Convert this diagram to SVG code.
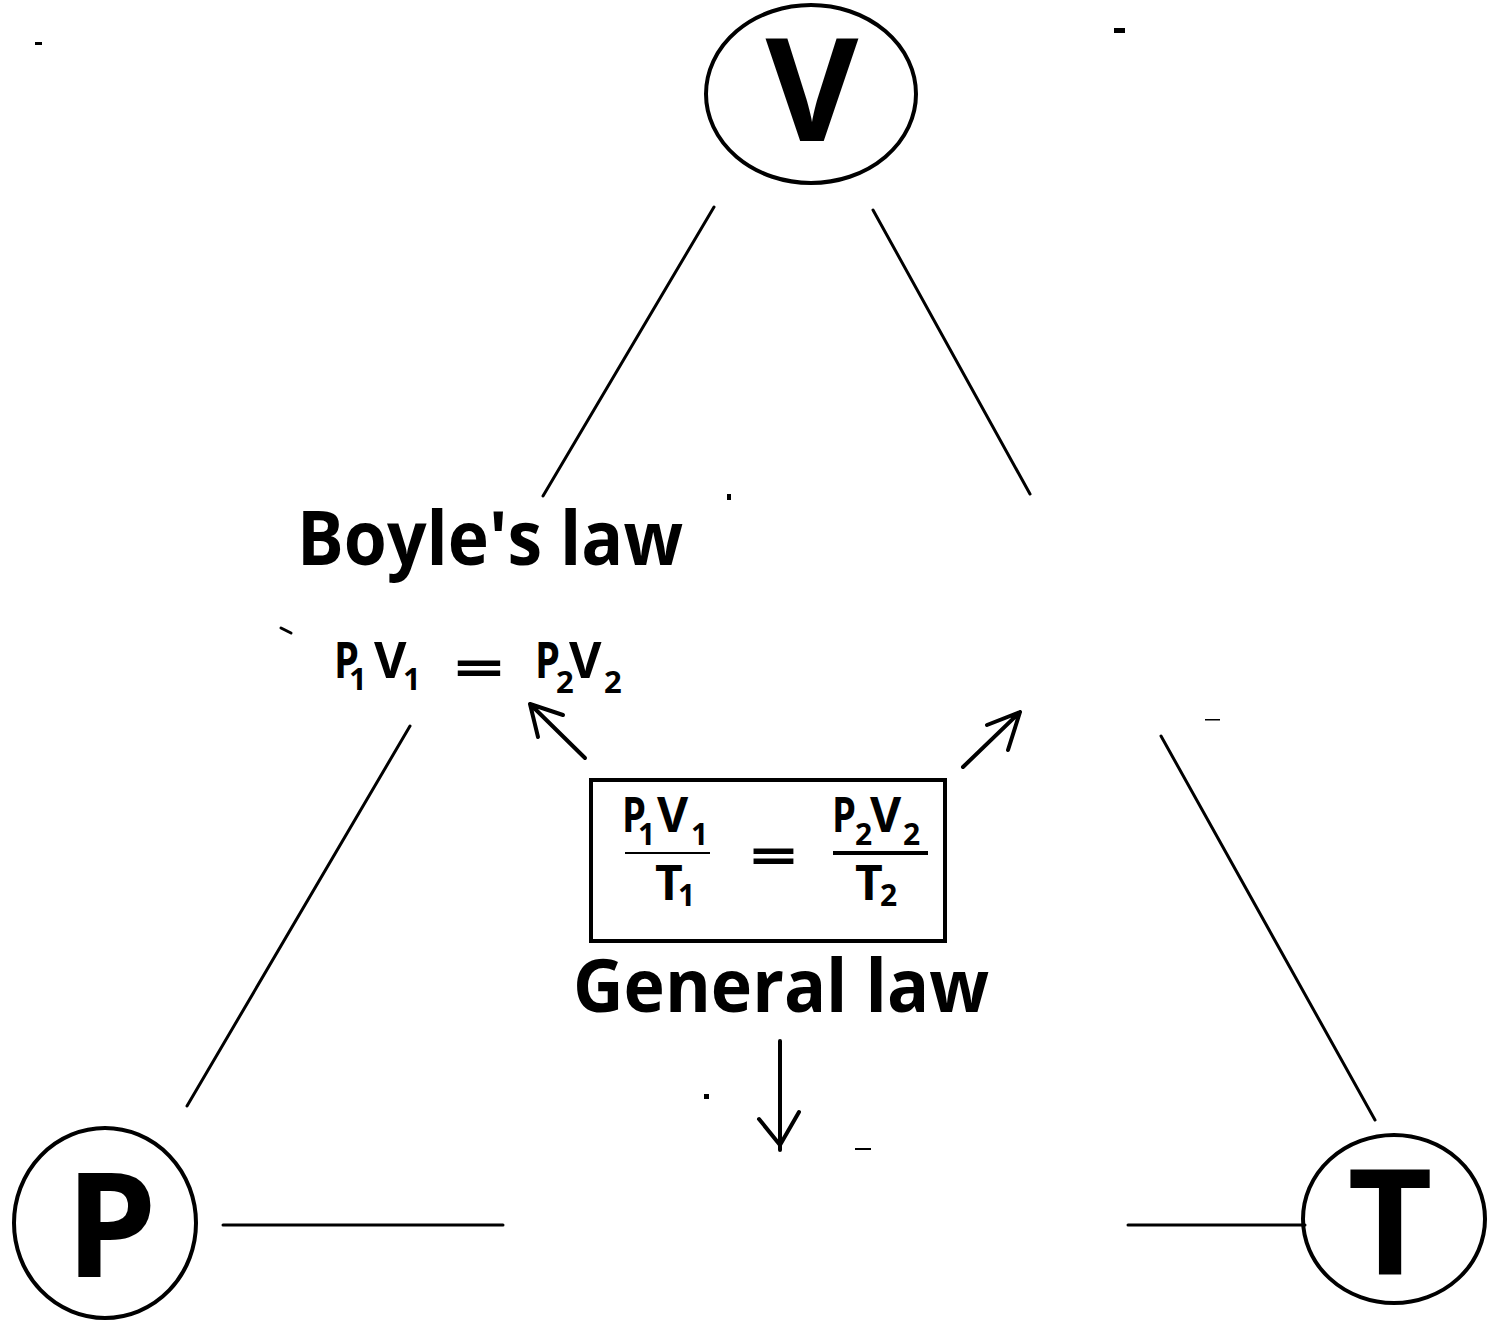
<svg xmlns="http://www.w3.org/2000/svg" width="1488" height="1320" viewBox="0 0 1488 1320">
<style>
.ring{fill:none;stroke:#000;stroke-width:4}
.big{font-family:"Open Sans","Liberation Sans",sans-serif;font-weight:bold;fill:#000;text-anchor:middle}
.lbl{font-family:"Open Sans","Liberation Sans",sans-serif;font-weight:bold;fill:#000}
.f{font-family:"Open Sans","Liberation Sans",sans-serif;font-weight:bold;fill:#000}
.edge{stroke:#000;stroke-width:3;fill:none;stroke-linecap:round}
.arr{stroke:#000;stroke-width:4;fill:none;stroke-linecap:round;stroke-linejoin:round}
.mark{fill:#000}
</style>
<rect width="1488" height="1320" fill="#fff"/>
<g id="connectors">
<line class="edge" x1="714" y1="207" x2="543" y2="496"/>
<line class="edge" x1="873" y1="210" x2="1030" y2="494"/>
<line class="edge" x1="410" y1="726" x2="187" y2="1106"/>
<line class="edge" x1="1161" y1="736" x2="1375" y2="1120"/>
<line class="edge" x1="223" y1="1225" x2="503" y2="1225"/>
<line class="edge" x1="1128" y1="1225" x2="1305" y2="1225"/>
<path class="arr" d="M585,758 L530,704 M563,715 L530,704 L538,737"/>
<path class="arr" d="M963,767 L1020,712 M987,725 L1020,712 L1008,750"/>
<path class="arr" d="M780,1041 L780,1150 M759,1119 L780,1145 L799,1112"/>
</g>
<g id="node-V">
<ellipse class="ring" cx="811" cy="94" rx="105" ry="89"/>
<text class="big" x="812" y="141" font-size="143">V</text>
</g>
<g id="node-P">
<ellipse class="ring" cx="105" cy="1223" rx="91" ry="95"/>
<text class="big" x="111" y="1277" font-size="146">P</text>
</g>
<g id="node-T">
<ellipse class="ring" cx="1394" cy="1219" rx="91" ry="84"/>
<text class="big" x="1390" y="1275" font-size="147">T</text>
</g>
<g id="boyle">
<text class="lbl" x="297" y="565" font-size="76" textLength="386" lengthAdjust="spacingAndGlyphs">Boyle's law</text>
<text class="f" x="334" y="678" font-size="50" textLength="25" lengthAdjust="spacingAndGlyphs">P</text>
<text class="f" x="374" y="678" font-size="50">V</text>
<text class="f" x="349" y="690" font-size="31">1</text>
<text class="f" x="403" y="690" font-size="31">1</text>
<text class="f" x="454" y="687" font-size="52" textLength="50" lengthAdjust="spacingAndGlyphs">=</text>
<text class="f" x="535" y="678" font-size="50" textLength="25" lengthAdjust="spacingAndGlyphs">P</text>
<text class="f" x="569" y="678" font-size="50">V</text>
<text class="f" x="556" y="693" font-size="31">2</text>
<text class="f" x="604" y="693" font-size="31">2</text>
</g>
<g id="general">
<rect x="591" y="780" width="354" height="161" fill="none" stroke="#000" stroke-width="4"/>
<text class="f" x="622" y="832" font-size="48" textLength="24" lengthAdjust="spacingAndGlyphs">P</text>
<text class="f" x="657" y="832" font-size="48">V</text>
<text class="f" x="655" y="900" font-size="48">T</text>
<text class="f" x="638" y="845" font-size="30">1</text>
<text class="f" x="691" y="845" font-size="30">1</text>
<text class="f" x="678" y="906" font-size="30">1</text>
<line x1="625" y1="853" x2="710" y2="853" stroke="#000" stroke-width="2"/>
<text class="f" x="750" y="875" font-size="52" textLength="47" lengthAdjust="spacingAndGlyphs">=</text>
<text class="f" x="832" y="832" font-size="48" textLength="24" lengthAdjust="spacingAndGlyphs">P</text>
<text class="f" x="870" y="832" font-size="48">V</text>
<text class="f" x="855" y="900" font-size="48">T</text>
<text class="f" x="855" y="845" font-size="30">2</text>
<text class="f" x="903" y="845" font-size="30">2</text>
<text class="f" x="880" y="906" font-size="30">2</text>
<line x1="833" y1="853" x2="928" y2="853" stroke="#000" stroke-width="4"/>
<text class="lbl" x="573" y="1012" font-size="73" textLength="416" lengthAdjust="spacingAndGlyphs">General law</text>
</g>
<g id="marks">
<rect class="mark" x="35" y="42" width="7" height="3"/>
<rect class="mark" x="1114" y="28" width="11" height="5"/>
<rect class="mark" x="727" y="494" width="4" height="6"/>
<rect class="mark" x="704" y="1094" width="5" height="5"/>
<rect class="mark" x="855" y="1148" width="16" height="2"/>
<rect class="mark" x="1205" y="719" width="15" height="1.5"/>
<line x1="281" y1="628" x2="291" y2="633" stroke="#000" stroke-width="3" stroke-linecap="round"/>
</g>
</svg>
